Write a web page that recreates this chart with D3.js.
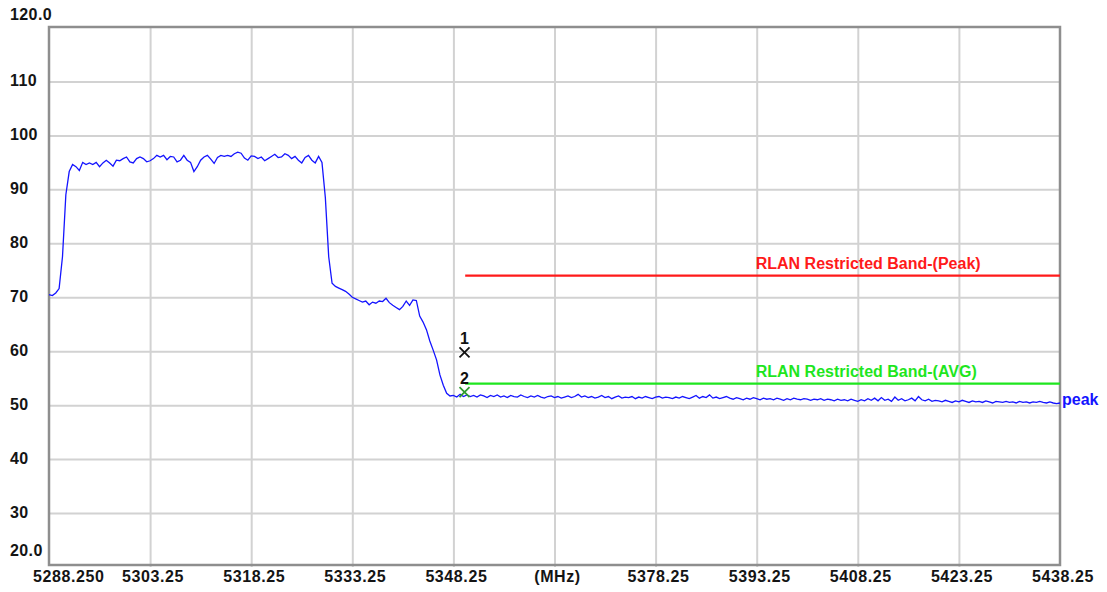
<!DOCTYPE html>
<html><head><meta charset="utf-8">
<script src="https://cdn.jsdelivr.net/npm/d3@7"></script>
<style>
body{margin:0;background:#fff;}
svg{display:block;}
text{font-family:"Liberation Sans",Arial,sans-serif;font-weight:bold;}
</style>
</head><body><svg id="c" width="1107" height="592"></svg>
<script>
// ---------------- data ----------------
const freqStart = 5288.25, freqStop = 5438.25, freqStep = 0.5; // sweep grid (MHz)
const traceName = "peak";
const traceValues = [
 70.5, 70.3, 70.8, 71.6, 77.5, 89.0, 93.3, 94.6, 94.2, 93.5,
 95.0, 94.6, 94.9, 94.6, 95.0, 94.2, 94.9, 95.4, 94.9, 94.3,
 95.4, 95.3, 95.7, 96.0, 95.1, 94.9, 95.7, 96.0, 95.7, 95.1,
 95.3, 95.7, 96.3, 96.0, 96.3, 95.5, 96.1, 96.0, 95.1, 95.4,
 96.3, 95.4, 95.0, 93.3, 94.2, 95.4, 96.0, 96.3, 95.6, 94.8,
 95.9, 96.3, 96.1, 96.3, 96.1, 96.6, 96.9, 96.7, 95.8, 95.4,
 96.2, 96.1, 95.7, 96.0, 95.3, 95.7, 96.1, 96.5, 95.9, 96.0,
 96.6, 96.3, 95.7, 96.1, 95.4, 94.9, 95.9, 96.3, 95.4, 94.9,
 96.1, 95.0, 88.5, 77.5, 72.6, 72.0, 71.7, 71.4, 71.1, 70.6,
 70.0, 69.7, 69.4, 69.1, 69.3, 68.6, 69.1, 68.9, 69.3, 69.2,
 69.8, 69.0, 68.5, 68.1, 67.7, 68.3, 69.3, 68.5, 69.5, 69.4,
 66.5, 65.4, 64.0, 61.9, 60.2, 58.4, 55.6, 53.7, 52.2, 51.7,
 51.8, 51.5, 52.0, 51.6, 51.9,
 51.6, 51.8, 51.5, 51.9, 51.7, 51.4, 51.8, 51.6, 51.9, 51.5,
 51.7, 51.4, 51.8, 51.6, 51.5, 51.9, 51.6, 51.4, 51.7, 51.5,
 51.8, 51.5, 51.3, 51.6, 51.7, 51.4, 51.6, 51.3, 51.5, 51.7,
 51.4, 51.6, 52.0, 51.5, 51.7, 51.4, 51.6, 51.3, 51.5, 51.8,
 51.4, 51.6, 51.2, 51.5, 51.7, 51.3, 51.5, 51.4, 51.6, 51.2,
 51.5, 51.3, 51.6, 51.4, 51.2, 51.5, 51.6, 51.3, 51.5, 51.4,
 51.2, 51.5, 51.3, 51.6, 51.4, 51.2, 51.5, 51.8, 51.3, 51.6,
 51.4, 51.9, 51.3, 51.5, 51.2, 51.4, 51.6, 51.3, 51.1, 51.4,
 51.2, 51.0, 51.3, 51.1, 51.4, 51.2, 51.0, 51.3, 51.1, 51.2,
 51.0, 51.3, 51.1, 50.9, 51.2, 51.0, 51.3, 51.1, 51.0, 51.2,
 51.1, 50.9, 51.1, 51.0, 51.2, 50.9, 51.1, 51.0, 50.8, 51.1,
 50.9, 51.0, 50.8, 51.1, 50.9, 50.7, 51.0, 50.8, 51.2, 50.9,
 51.3, 50.8, 51.4, 50.9, 51.1, 50.7, 51.5, 50.9, 51.2, 50.8,
 51.0, 51.3, 50.8, 51.6, 51.0, 50.8, 51.1, 50.7, 50.9, 50.8,
 50.6, 50.9, 50.7, 50.5, 50.8, 50.6, 50.9, 50.7, 50.5, 50.8,
 50.6, 50.7, 50.5, 50.8, 50.6, 50.4, 50.7, 50.6, 50.5, 50.7,
 50.5, 50.6, 50.4, 50.7, 50.5, 50.6, 50.4, 50.6, 50.5, 50.7,
 50.5, 50.4, 50.6, 50.4, 50.3, 50.4
];
const xTickValues = [5288.25, 5303.25, 5318.25, 5333.25, 5348.25, 5363.25, 5378.25, 5393.25, 5408.25, 5423.25, 5438.25];
const xTickLabels = ["5288.250", "5303.25", "5318.25", "5333.25", "5348.25", "(MHz)", "5378.25", "5393.25", "5408.25", "5423.25", "5438.25"];
const yTickValues = [120, 110, 100, 90, 80, 70, 60, 50, 40, 30, 20];
const yTickLabels = ["120.0", "110", "100", "90", "80", "70", "60", "50", "40", "30", "20.0"];
const limitNames = ["RLAN Restricted Band-(Peak)", "RLAN Restricted Band-(AVG)"];
const limitLevels = [74, 54];
const limitStart = [5350, 5350];
const limitLabelFreq = [5393.25, 5393.25];
const markerIds = ["1", "2"];
const markerFreqs = [5349.9, 5349.9];
const markerLevels = [59.8, 52.4];

// ---------------- styles ----------------
const limitColors = ["#ff1a1a", "#1ee61e"];
const markerColors = ["#111111", "#2f9a2f"];
const traceColor = "#1414ff";

// ---------------- chart ----------------
const svg = d3.select("#c");
const L = 49, R = 1060, T = 27.5, B = 567;
const x = d3.scaleLinear().domain([freqStart, freqStop]).range([L, R]);
const y = d3.scaleLinear().domain([20, 120]).range([B, T]);

// grid
svg.append("g").attr("transform", `translate(0,${B})`)
  .call(d3.axisBottom(x).tickValues(xTickValues.slice(1, -1)).tickSize(-(B - T)).tickFormat(""))
  .call(g => g.select(".domain").remove())
  .call(g => g.selectAll("line").attr("stroke", "#d2d2d2").attr("stroke-width", 2));
svg.append("g").attr("transform", `translate(${L},0)`)
  .call(d3.axisLeft(y).tickValues(yTickValues.slice(1, -1)).tickSize(-(R - L)).tickFormat(""))
  .call(g => g.select(".domain").remove())
  .call(g => g.selectAll("line").attr("stroke", "#d2d2d2").attr("stroke-width", 2));

// frame
svg.append("rect").attr("x", L).attr("y", y(120) - 0.5).attr("width", R - L).attr("height", y(20) - y(120) - 1.5)
  .attr("fill", "none").attr("stroke", "#8e8e8e").attr("stroke-width", 2.5);

// y labels
svg.append("g").selectAll("text").data(yTickValues).join("text")
  .attr("x", 10)
  .attr("y", (d, i) => i === 0 ? y(d) - 7.5 : (i === yTickValues.length - 1 ? y(d) - 11 : y(d) + 4.5))
  .attr("font-size", 16).attr("letter-spacing", 0.4).attr("fill", "#141414")
  .text((d, i) => yTickLabels[i]);

// x labels
svg.append("g").selectAll("text").data(xTickValues).join("text")
  .attr("x", (d, i) => i === 0 ? x(d) - 16 : x(d) + 3)
  .attr("y", 582)
  .attr("text-anchor", (d, i) => i === 0 ? "start" : "middle")
  .attr("font-size", 16).attr("letter-spacing", 0.6).attr("fill", "#141414")
  .text((d, i) => xTickLabels[i]);

// limit lines
limitNames.forEach((name, i) => {
  svg.append("line").attr("x1", x(limitStart[i])).attr("x2", x(freqStop))
    .attr("y1", y(limitLevels[i])).attr("y2", y(limitLevels[i]))
    .attr("stroke", limitColors[i]).attr("stroke-width", 2.2);
  svg.append("text").attr("x", x(limitLabelFreq[i]) - 1).attr("y", y(limitLevels[i]) - 7)
    .attr("font-size", 16).attr("fill", limitColors[i]).text(name);
});

// trace
const pts = traceValues.map((v, i) => [freqStart + i * freqStep, v]);
svg.append("path").datum(pts)
  .attr("fill", "none").attr("stroke", traceColor).attr("stroke-width", 1.3)
  .attr("d", d3.line().x(d => x(d[0])).y(d => y(d[1])));
svg.append("text").attr("x", R + 2).attr("y", y(traceValues[traceValues.length - 1]) + 2)
  .attr("font-size", 16).attr("fill", traceColor).text(traceName);

// markers
markerIds.forEach((id, i) => {
  const cx = x(markerFreqs[i]), cy = y(markerLevels[i]);
  const s = 5;
  svg.append("path").attr("d", `M${cx - s},${cy - s}L${cx + s},${cy + s}M${cx - s},${cy + s}L${cx + s},${cy - s}`)
    .attr("stroke", markerColors[i]).attr("stroke-width", 1.8).attr("fill", "none");
  svg.append("text").attr("x", cx).attr("y", cy - 8).attr("text-anchor", "middle")
    .attr("font-size", 16).attr("fill", "#111").text(id);
});
</script>
</body></html>
